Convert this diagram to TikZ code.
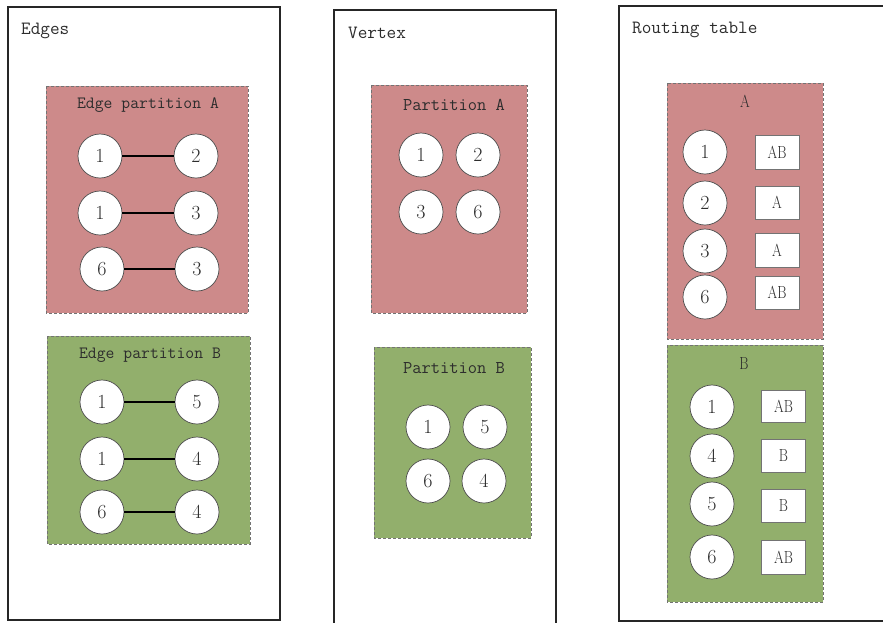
\documentclass[tikz,border=0pt]{standalone}
\usepackage{fontspec}
\usepackage{graphicx}
\definecolor{redp}{RGB}{205,138,138}
\definecolor{greenp}{RGB}{146,175,108}
\definecolor{txt}{RGB}{45,45,45}
\newcommand\bigttl{\fontsize{18.7}{19}\selectfont\ttfamily}
\newcommand\ttlfont{\fontsize{18}{18}\selectfont\ttfamily}
\newcommand\ettlfont{\fontsize{17.2}{18}\selectfont\ttfamily}
\newcommand\numfont{\fontsize{20}{20}\selectfont\rmfamily}
\newcommand\tagfont{\fontsize{17.5}{18}\selectfont\rmfamily}
\newcommand\cond[1]{\scalebox{0.8}[1]{#1}}
\tikzset{
  frame/.style={draw=black!85, line width=1.5pt},
  partbox/.style={draw=black!55, dash pattern=on 3pt off 2pt, line width=0.8pt},
  redbox/.style={partbox, fill=redp},
  greenbox/.style={partbox, fill=greenp},
  vtx/.style={circle, draw=black!70, fill=white, line width=0.7pt, minimum size=44pt, inner sep=0pt, font=\numfont, text=txt},
  tagbox/.style={rectangle, draw=black!55, fill=white, line width=1pt, minimum width=44pt, minimum height=32pt, inner sep=0pt, font=\tagfont, text=txt},
  title/.style={font=\ttlfont, text=txt, inner sep=0pt},
  edge/.style={draw=black, line width=1.6pt}
}
\begin{document}
\begin{tikzpicture}[x=1pt,y=-1pt]
\useasboundingbox (0,0) rectangle (883,622);
\fill[white] (0,0) rectangle (883,622);
% frames
\draw[frame] (8,7) rectangle (280,620);
\draw[frame] (334,10) rectangle (556,630);
\draw[frame] (619,6) rectangle (895,621);
\node[title, font=\bigttl, anchor=west] (tedges) at (21,31) {Edges};
\node[title, font=\bigttl, anchor=west] (tvertex) at (348,33) {Vertex};
\node[title, font=\bigttl, anchor=west] (trouting) at (632,30) {Routing table};

% Edges, partition A
\draw[redbox] (46,86) rectangle (248,313);
\node[title, font=\ettlfont] (epa) at (148,105) {Edge partition A};
\node[vtx] (ea1) at (100,156) {1};
\node[vtx] (ea2) at (196,156) {2};
\node[vtx] (ea3) at (100,213) {1};
\node[vtx] (ea4) at (196,213) {3};
\node[vtx] (ea5) at (102,269) {6};
\node[vtx] (ea6) at (197,269) {3};
\draw[edge] (ea1) -- (ea2);
\draw[edge] (ea3) -- (ea4);
\draw[edge] (ea5) -- (ea6);

% Edges, partition B
\draw[greenbox] (47,336) rectangle (250,544);
\node[title, font=\ettlfont] (epb) at (150,355) {Edge partition B};
\node[vtx] (eb1) at (102,402) {1};
\node[vtx] (eb2) at (197,402) {5};
\node[vtx] (eb3) at (102,459) {1};
\node[vtx] (eb4) at (197,459) {4};
\node[vtx] (eb5) at (102,512) {6};
\node[vtx] (eb6) at (197,512) {4};
\draw[edge] (eb1) -- (eb2);
\draw[edge] (eb3) -- (eb4);
\draw[edge] (eb5) -- (eb6);

% Vertex, partition A
\draw[redbox] (371,85) rectangle (527,313);
\node[title] (vpa) at (454,105) {Partition A};
\node[vtx] (va1) at (421,155) {1};
\node[vtx] (va2) at (478,155) {2};
\node[vtx] (va3) at (421,212) {3};
\node[vtx] (va6) at (478,212) {6};

% Vertex, partition B
\draw[greenbox] (374,347) rectangle (531,538);
\node[title] (vpb) at (454,368) {Partition B};
\node[vtx] (vb1) at (428,427) {1};
\node[vtx] (vb5) at (485,427) {5};
\node[vtx] (vb6) at (428,481) {6};
\node[vtx] (vb4) at (484,481) {4};

% Routing table, A
\draw[redbox] (667,83) rectangle (823,339);
\node[title, font=\tagfont] (rta) at (745,101) {\cond{A}};
\node[vtx] (ra1) at (705,152) {1};
\node[vtx] (ra2) at (705,203) {2};
\node[vtx] (ra3) at (705,251) {3};
\node[vtx] (ra6) at (705,297) {6};
\node[tagbox, minimum height=34pt] (ta1) at (777,152) {\cond{AB}};
\node[tagbox, minimum height=33pt] (ta2) at (777,202.5) {\cond{A}};
\node[tagbox, minimum height=34pt] (ta3) at (777,250) {\cond{A}};
\node[tagbox, minimum height=33pt] (ta6) at (777,292.5) {\cond{AB}};

% Routing table, B
\draw[greenbox] (667,345) rectangle (823,602);
\node[title, font=\tagfont] (rtb) at (744,364) {\cond{B}};
\node[vtx] (rb1) at (712,407) {1};
\node[vtx] (rb4) at (712,456) {4};
\node[vtx] (rb5) at (712,504) {5};
\node[vtx] (rb6) at (712,557) {6};
\node[tagbox] (tb1) at (783.5,406) {\cond{AB}};
\node[tagbox, minimum height=33pt] (tb4) at (783.5,455.5) {\cond{B}};
\node[tagbox, minimum height=33pt] (tb5) at (783.5,505.5) {\cond{B}};
\node[tagbox, minimum height=34pt] (tb6) at (783.5,557) {\cond{AB}};
\end{tikzpicture}
\end{document}
